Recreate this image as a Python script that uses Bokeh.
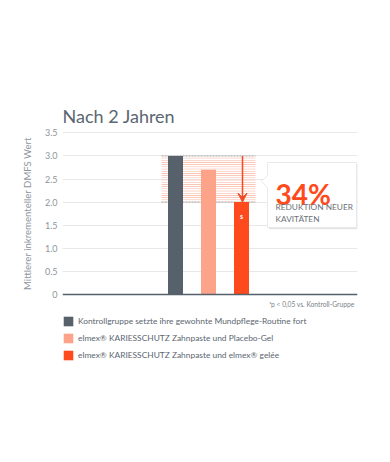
from bokeh.plotting import figure
from bokeh.models import (Range1d, FixedTicker, Label, Span, Arrow, VeeHead,
                          Legend, LegendItem)
from bokeh.embed import file_html
from bokeh.resources import INLINE

# ---------------- data ----------------
GROUPS = [
    "Kontrollgruppe setzte ihre gewohnte Mundpflege-Routine fort",
    "elmex® KARIESSCHUTZ Zahnpaste und Placebo-Gel",
    "elmex® KARIESSCHUTZ Zahnpaste und elmex® gelée",
]
POSITIONS = [1, 2, 3]
VALUES = [3.0, 2.7, 2.0]
COLORS = ["#56616b", "#fca38a", "#fe4a1c"]
TICKS = [0, 0.5, 1.0, 1.5, 2.0, 2.5, 3.0, 3.5]
TICK_LABELS = ["0", "0.5", "1.0", "1.5", "2.0", "2.5", "3.0", "3.5"]
TITLE = "Nach 2 Jahren"
Y_LABEL = "Mittlerer inkrementeller DMFS Wert"
REDUCTION = "34%"
REDUCTION_TEXT = ["REDUKTION NEUER", "KAVITÄTEN"]
SIG_MARK = "s"
FOOTNOTE = "ˢp < 0,05 vs. Kontroll-Gruppe"

FONT = "Lato"
GREY_TEXT = "#8e959b"
DARK_TEXT = "#5b6670"

# ---------------- figure ----------------
p = figure(width=382, height=454, output_backend="svg", toolbar_location=None,
           x_range=Range1d(-2.4242, 6.515), y_range=Range1d(-1.558, 5.065),
           x_axis_location=None, min_border_left=62, min_border_right=25,
           min_border_top=60, min_border_bottom=88)
p.outline_line_color = None
p.background_fill_color = "white"
p.border_fill_color = "white"
p.xgrid.visible = False

yax = p.yaxis[0]
yax.ticker = FixedTicker(ticks=TICKS)
yax.major_label_overrides = dict(zip(TICKS, TICK_LABELS))
yax.axis_line_color = None
yax.major_tick_line_color = None
yax.minor_tick_line_color = None
yax.major_tick_in = 0
yax.major_tick_out = 0
yax.major_label_standoff = 5
yax.major_label_text_font = FONT
yax.major_label_text_font_size = "9px"
yax.major_label_text_color = GREY_TEXT
yax.axis_label = Y_LABEL
yax.axis_label_text_font = FONT
yax.axis_label_text_font_size = "9.6px"
yax.axis_label_text_font_style = "normal"
yax.axis_label_text_color = GREY_TEXT
yax.axis_label_standoff = 9

p.ygrid.grid_line_color = "#e8e8e8"
p.ygrid.grid_line_width = 1

# hatched reduction band between control value and gelée value
pad = 0.424
p.quad(left=POSITIONS[0] - pad, right=POSITIONS[2] + pad,
       bottom=VALUES[2], top=VALUES[0], fill_color="white", fill_alpha=0,
       line_color=None, hatch_pattern="horizontal_line", hatch_color="#fbb09a",
       hatch_scale=2.2, hatch_weight=1)
for v in (VALUES[0], VALUES[2]):
    p.segment(x0=POSITIONS[0] - pad, x1=POSITIONS[2] + pad, y0=v, y1=v,
              line_color="#a9a9a9", line_width=1, line_dash="2 1")

# bars
renderers = []
for x, v, c in zip(POSITIONS, VALUES, COLORS):
    r = p.vbar(x=[x], top=[v], bottom=0, width=0.4545, fill_color=c, line_color=None)
    renderers.append(r)

# baseline
p.add_layout(Span(location=0, dimension="width", line_color="#56616b", line_width=1.5))

# arrow
p.add_layout(Arrow(end=VeeHead(size=9, fill_color="#f04a24", line_color="#f04a24"),
                   x_start=POSITIONS[2] + 0.03, y_start=VALUES[0],
                   x_end=POSITIONS[2] + 0.03, y_end=VALUES[2],
                   line_color="#f04a24", line_width=1.5))

# significance mark
p.add_layout(Label(x=POSITIONS[2], y=VALUES[2] - 0.29, text=SIG_MARK,
                   text_align="center", text_baseline="middle",
                   text_color="white", text_font=FONT, text_font_style="bold",
                   text_font_size="7px"))

# callout box
L, R, T, B = 3.788, 6.485, 2.857, 1.450
tip_x, tri_t, tri_m, tri_b = 3.606, 2.576, 2.446, 2.316
sx, sy = 0.04, -0.035
p.patch([L + sx, R + sx, R + sx, L + sx], [T + sy, T + sy, B + sy, B + sy],
        fill_color="black", fill_alpha=0.10, line_color=None)
p.patch([L, R, R, L, L, tip_x, L], [T, T, B, B, tri_b, tri_m, tri_t],
        fill_color="white", line_color="#e4e4e4", line_width=0.8)

p.add_layout(Label(x=4.03, y=2.186, text=REDUCTION, text_align="left",
                   text_baseline="alphabetic", text_color="#ff4a1c",
                   text_font=FONT, text_font_style="bold", text_font_size="28px"))
p.add_layout(Label(x=4.03, y=1.905, text=REDUCTION_TEXT[0], text_align="left",
                   text_baseline="alphabetic", text_color="#6b7278",
                   text_font=FONT, text_font_size="8.3px"))
p.add_layout(Label(x=4.03, y=1.645, text=REDUCTION_TEXT[1], text_align="left",
                   text_baseline="alphabetic", text_color="#6b7278",
                   text_font=FONT, text_font_size="8.3px"))

# title
p.add_layout(Label(x=-2.4242, y=3.874, text=TITLE, text_align="left",
                   text_baseline="alphabetic", text_color=DARK_TEXT,
                   text_font=FONT, text_font_size="18px"))

# footnote
p.add_layout(Label(x=6.42, y=-0.195, text=FOOTNOTE, text_align="right",
                   text_baseline="middle", text_color="#7a8288",
                   text_font=FONT, text_font_size="6.7px"))

# legend
legend = Legend(items=[LegendItem(label=g, renderers=[r]) for g, r in zip(GROUPS, renderers)],
                location=(0, 5), orientation="vertical",
                glyph_width=12, glyph_height=12, label_height=12, spacing=5,
                label_standoff=4, padding=0, margin=0,
                background_fill_alpha=0, border_line_color=None,
                label_text_font=FONT, label_text_font_size="8.4px",
                label_text_color=DARK_TEXT)
p.add_layout(legend)

open("out.html", "w").write(file_html(p, INLINE))
